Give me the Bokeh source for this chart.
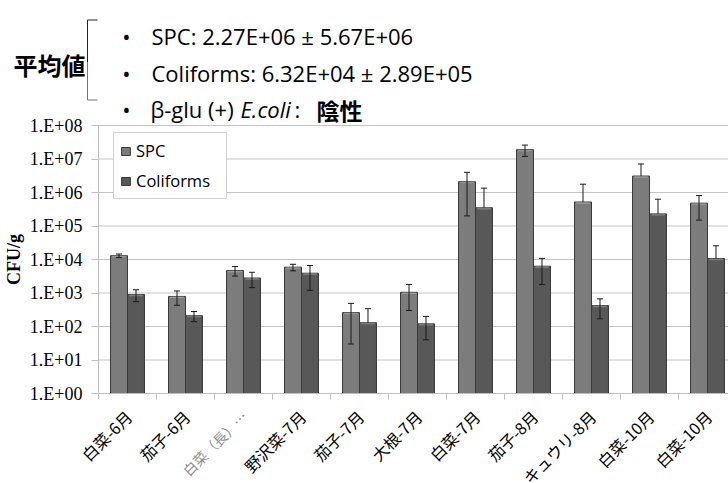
import numpy as np
from bokeh.plotting import figure
from bokeh.models import Range1d, FixedTicker, Legend, LegendItem, LinearScale
from bokeh.embed import file_html
from bokeh.resources import INLINE
from bokeh.core.properties import value

# ---- data -----------------------------------------------------------------
categories = ["白菜-6月", "茄子-6月", "白菜（長）…", "野沢菜-7月", "茄子-7月",
              "大根-7月", "白菜-7月", "茄子-8月", "キュウリ-8月", "白菜-10月",
              "白菜-10月"]
category_colors = ["black", "black", "#8c8c8c", "black", "black", "black",
                   "black", "black", "black", "black", "black"]
category_sizes = ["16px", "16px", "14px", "16px", "16px", "16px",
                  "16px", "16px", "16px", "16px", "16px"]

spc_mean = [1.3e4, 7.9e2, 4.7e3, 5.9e3, 2.6e2, 1.05e3, 2.1e6, 1.9e7, 5.2e5, 3.1e6, 4.8e5]
spc_sd = [1.6e3, 3.6e2, 1.5e3, 1.3e3, 2.3e2, 7.5e2, 1.9e6, 7.0e6, 1.25e6, 4.0e6, 3.3e5]
coli_mean = [9.0e2, 2.1e2, 2.8e3, 3.9e3, 1.3e2, 1.2e2, 3.5e5, 6.3e3, 4.2e2, 2.3e5, 1.07e4]
coli_sd = [3.5e2, 7.0e1, 1.35e3, 2.7e3, 2.1e2, 8.0e1, 1.0e6, 4.5e3, 2.5e2, 4.0e5, 1.5e4]

decade_ticks = [1e0, 1e1, 1e2, 1e3, 1e4, 1e5, 1e6, 1e7, 1e8]
decade_labels = ["1.E+00", "1.E+01", "1.E+02", "1.E+03", "1.E+04",
                 "1.E+05", "1.E+06", "1.E+07", "1.E+08"]

summary_lines = ["SPC: 2.27E+06 ± 5.67E+06",
                 "Coliforms: 6.32E+04 ±  2.89E+05"]

SANS = "Open Sans"
SERIF = "Liberation Serif"
CJK = "Noto Sans CJK JP"

# ---- canvas layout (pixels) -----------------------------------------------
W, H = 728, 483
AX_LEFT, AX_TOP, AX_BOTTOM = 98, 125, 393     # plotting area inside the canvas
CAT_PX = 58.0                                   # width of one category
DECADE_PX = (AX_BOTTOM - AX_TOP) / 8.0

n = len(categories)
x_lo = -AX_LEFT / CAT_PX
x_hi = (W - AX_LEFT) / CAT_PX
y_lo = 10 ** (-(H - AX_BOTTOM) / DECADE_PX)
y_hi = 10 ** (AX_BOTTOM / DECADE_PX)

p = figure(frame_width=W, frame_height=H, x_range=Range1d(x_lo, x_hi),
           y_range=Range1d(y_lo, y_hi), y_axis_type="log", min_border=0,
           output_backend="svg", toolbar_location=None)
p.outline_line_color = None
p.xgrid.visible = False
p.ygrid.visible = False
# a pixel space for the header texts and the category labels
p.extra_x_ranges = {"page": Range1d(0, W)}
p.extra_y_ranges = {"page": Range1d(H, 0)}
p.extra_x_scales = {"page": LinearScale()}
p.extra_y_scales = {"page": LinearScale()}

# ---- horizontal gridlines -------------------------------------------------
p.segment(x0=[0] * len(decade_ticks), x1=[x_hi] * len(decade_ticks),
          y0=decade_ticks, y1=decade_ticks, line_color="#c4c4c4", line_width=1)

# ---- bars and error bars --------------------------------------------------
centers = np.arange(n) + 0.5
bw = 0.293
series = [
    ("SPC", spc_mean, spc_sd, centers - bw / 2, "#7c7c7c"),
    ("Coliforms", coli_mean, coli_sd, centers + bw / 2, "#585858"),
]

legend_items = []
for name, mean, sd, xs, color in series:
    mean = np.asarray(mean, dtype=float)
    sd = np.asarray(sd, dtype=float)
    r = p.vbar(x=xs, top=mean, bottom=1, width=bw, fill_color=color,
               line_color="#3a3a3a", line_width=1)
    # light bevel at the top of each bar
    p.vbar(x=xs, top=mean, bottom=mean / 1.12, width=bw * 0.8,
           fill_color="white", fill_alpha=0.25, line_color=None)
    legend_items.append(LegendItem(label=name, renderers=[r]))

    upper = mean + sd
    lower = mean - sd
    ok = lower > 0          # a negative lower limit cannot be shown on a log axis
    seg_low = np.where(ok, lower, mean)
    p.segment(x0=xs, y0=seg_low, x1=xs, y1=upper, line_color="#1a1a1a", line_width=1)
    p.dash(x=xs, y=upper, size=6, line_color="#1a1a1a", line_width=1)
    p.dash(x=xs[ok], y=lower[ok], size=6, line_color="#1a1a1a", line_width=1)

# ---- axes -----------------------------------------------------------------
xax = p.xaxis[0]
xax.fixed_location = 1
xax.bounds = (0, x_hi)
xax.ticker = FixedTicker(ticks=[], minor_ticks=list(range(n + 1)))
xax.axis_line_color = "#bfbfbf"
xax.major_tick_line_color = None
xax.minor_tick_line_color = "#bfbfbf"
xax.minor_tick_out = 6
xax.minor_tick_in = 0

yax = p.yaxis[0]
yax.fixed_location = 0
yax.bounds = (1, 1e8)
yax.ticker = FixedTicker(ticks=decade_ticks)
yax.major_label_overrides = dict(zip(decade_ticks, decade_labels))
yax.major_label_text_font = SERIF
yax.major_label_text_font_size = "18px"
yax.major_label_text_color = "black"
yax.major_label_standoff = 9
yax.axis_line_color = "#bfbfbf"
yax.major_tick_line_color = "#bfbfbf"
yax.major_tick_out = 7
yax.major_tick_in = 0
yax.minor_tick_line_color = None
yax.axis_label = "CFU/g"
yax.axis_label_text_font = SERIF
yax.axis_label_text_font_style = "bold"
yax.axis_label_text_font_size = "18px"
yax.axis_label_text_color = "black"
yax.axis_label_standoff = 3

# category labels, slanted under each group
p.text(x=centers + 1 / CAT_PX, y=[413] * n, y_range_name="page", text=categories,
       angle=np.pi / 4, text_align="right", text_baseline="middle",
       text_font=value(CJK), text_font_size=category_sizes, text_color=category_colors)

# ---- summary header -------------------------------------------------------
hdr = dict(x_range_name="page", y_range_name="page")
p.text(x=[13], y=[64], text=["平均値"], text_font=value(CJK), text_font_size="24px",
       text_font_style="bold", text_baseline="alphabetic", text_color="black", **hdr)
p.line(x=[97, 87, 87], y=[19.5, 19.5, 62], line_color="#222222", line_width=1, **hdr)
p.line(x=[87, 87, 97], y=[62, 99.5, 99.5], line_color="#777777", line_width=1, **hdr)

bullet_y = [35, 72, 108]
p.text(x=[126] * 3, y=bullet_y, text=["•"] * 3, text_font=value(SANS),
       text_font_size="22px", text_align="center", text_baseline="alphabetic",
       text_color="black", **hdr)
p.text(x=[151, 151], y=bullet_y[:2], text=summary_lines, text_font=value(SANS),
       text_font_size="22px", text_baseline="alphabetic", text_color="black", **hdr)
p.text(x=[150], y=[108], text=["β-glu (+)"], text_font=value(SANS), text_font_size="22px",
       text_baseline="alphabetic", text_color="black", **hdr)
p.text(x=[240], y=[108], text=["E.coli"], text_font=value(SANS), text_font_size="22px",
       text_font_style="italic", text_baseline="alphabetic", text_color="black", **hdr)
p.text(x=[294], y=[108], text=[":"], text_font=value(SANS), text_font_size="22px",
       text_baseline="alphabetic", text_color="black", **hdr)
p.text(x=[316], y=[109], text=["陰性"], text_font=value(CJK), text_font_size="23px",
       text_font_style="bold", text_baseline="alphabetic", text_color="black", **hdr)

# ---- legend ---------------------------------------------------------------
legend = Legend(items=legend_items, location=(113, H - 199), orientation="vertical",
                label_text_font=SANS, label_text_font_size="16.5px",
                label_text_color="black", glyph_width=11, glyph_height=10,
                label_height=18, label_width=84, spacing=7, padding=6,
                label_standoff=5, border_line_color="#a6a6a6", border_line_width=1,
                background_fill_color="white", background_fill_alpha=1)
p.add_layout(legend)

open("out.html", "w").write(file_html(p, INLINE))
